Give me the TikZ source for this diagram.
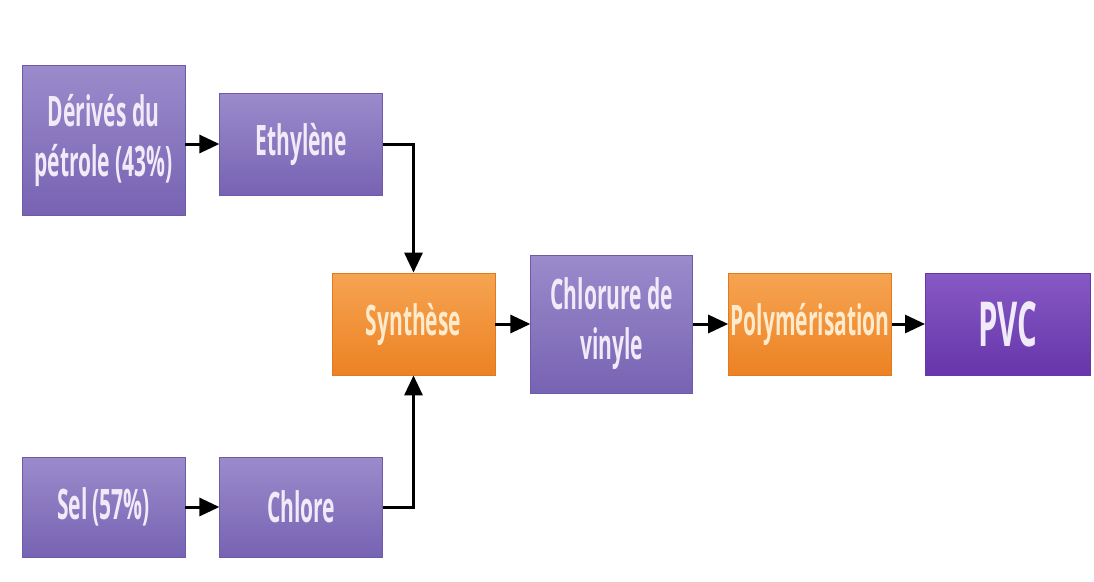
\documentclass[tikz,border=0pt]{standalone}
\usepackage{fontspec}
\usepackage{tikz}
\usetikzlibrary{arrows.meta, positioning, calc}
\usepackage{xcolor}
\newfontfamily\boxfont[FakeStretch=0.5]{Open Sans}

\definecolor{lilatop}{HTML}{9B8BCB}
\definecolor{lilabot}{HTML}{7763B3}
\definecolor{lilaedge}{HTML}{6E5AA8}
\definecolor{pvctop}{HTML}{8759C4}
\definecolor{pvcbot}{HTML}{6636AA}
\definecolor{orangetop}{HTML}{F6A452}
\definecolor{orangebot}{HTML}{EC8223}
\definecolor{orangeedge}{HTML}{E07A1E}
\definecolor{lilatext}{HTML}{F1EAF8}
\definecolor{orangetext}{HTML}{FFEACB}

\tikzset{
  base/.style={minimum width=163pt, inner sep=0pt, align=center,
    font=\boxfont\bfseries\fontsize{42}{50}\selectfont, line width=0.8pt},
  lila/.style={base, top color=lilatop, bottom color=lilabot, draw=lilaedge, text=lilatext},
  orangebox/.style={base, top color=orangetop, bottom color=orangebot, draw=orangeedge, text=orangetext,
    minimum height=102pt},
  pvcbox/.style={base, top color=pvctop, bottom color=pvcbot, draw=pvcbot, text=lilatext,
    minimum height=102pt, minimum width=165pt, font=\boxfont\bfseries\fontsize{62}{64}\selectfont},
  flow/.style={line width=3pt, -{Triangle[length=20pt,width=18pt]}},
}

\begin{document}
\begin{tikzpicture}[x=1pt, y=-1pt, node distance=34pt]
\useasboundingbox (0,0) rectangle (1094,581);

% Base nodes
\node (der) [lila, minimum height=150pt] at (103.5,140) {Dérivés du\\pétrole (43\%)};
\node (eth) [lila, minimum height=102pt, right=34pt of der, yshift=-4pt] {Ethylène};
\node (sel) [lila, minimum height=100pt] at (103.5,507) {Sel (57\%)};
\node (chl) [lila, minimum height=100pt, right=34pt of sel] {Chlore};

% Main line
\node (syn) [orangebox] at (413.5,324) {Synthèse};
\node (cvc) [lila, minimum height=138pt, minimum width=162pt, right=35pt of syn] {Chlorure de\\vinyle};
\node (pol) [orangebox, right=35pt of cvc] {Polymérisation};
\node (pvc) [pvcbox, right=33pt of pol] {PVC};

% Arrows
\draw[flow] (der.east |- eth.west) -- (eth.west);
\draw[flow] (sel.east) -- (chl.west);
\draw[flow] (eth.east) -| (syn.north);
\draw[flow] (chl.east) -| (syn.south);
\draw[flow] (syn.east) -- (cvc.west);
\draw[flow] (cvc.east) -- (pol.west);
\draw[flow] (pol.east) -- (pvc.west);
\end{tikzpicture}
\end{document}
